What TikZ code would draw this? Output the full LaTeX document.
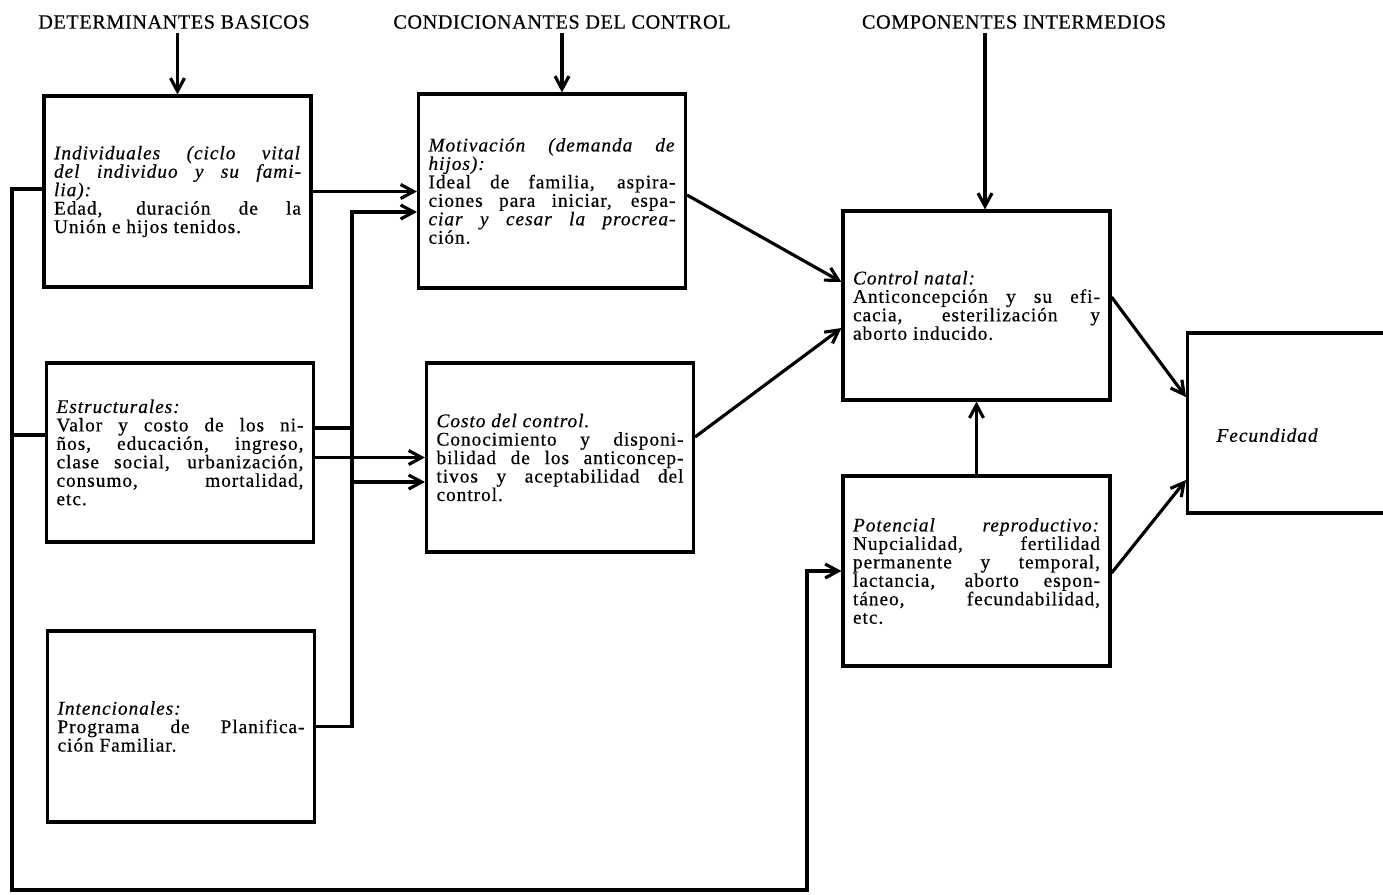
\documentclass[tikz,border=0pt]{standalone}
\usepackage{fontspec}
\setmainfont[LetterSpace=5, FakeBold=0.5]{Liberation Serif}
\usepackage{tikz}
\usetikzlibrary{arrows.meta,positioning}
\tikzstyle{caja} = [rectangle, draw, line width=1.8pt, text width=4.94cm, inner xsep=0.2cm, align=justify, font=\fontsize{11}{10.5}\selectfont]
\tikzstyle{titulo} = [inner sep=2pt, font=\fontsize{11.5}{13}\selectfont\addfontfeatures{LetterSpace=3}]
\tikzstyle{linea} = [line width=1.8pt]
\tikzstyle{flecha} = [line width=1.8pt, -{Straight Barb[length=2.6mm, width=2.8mm]}]
\tolerance=9999
\lineskiplimit=-6pt
\begin{document}
\begin{tikzpicture}[x=0.02cm, y=-0.02cm]
    \useasboundingbox (0,0) rectangle (1383,894);
    \clip (0,0) rectangle (1383,894);

    % encabezados
    \node[titulo] (hdet) at (174,22) {DETERMINANTES BASICOS};
    \node[titulo] (hcon) at (562,22) {CONDICIONANTES DEL CONTROL};
    \node[titulo] (hcom) at (1014,22) {COMPONENTES INTERMEDIOS};

    % determinantes basicos
    \node[caja, minimum height=3.82cm] (ind) at (177.5,191.5) {\textit{Individuales (ciclo vital}\linebreak \textit{del individuo y su fami-}\linebreak \textit{lia):}\\
        Edad, duración de la\linebreak Unión e hijos tenidos.};
    \node[caja, minimum height=3.58cm] (est) at (180,452.5) {\textit{Estructurales:}\\
        Valor y costo de los ni-\linebreak ños, educación, ingreso,\linebreak clase social, urbanización,\linebreak consumo, mortalidad,\linebreak etc.};
    \node[caja, minimum height=3.82cm] (inte) at (181,726.5) {\textit{Intencionales:}\\
        Programa de Planifica-\linebreak ción Familiar.};

    % condicionantes del control
    \node[caja, minimum height=3.88cm] (mot) at (552,191) {\textit{Motivación (demanda de}\linebreak \textit{hijos):}\\
        Ideal de familia, aspira-\linebreak ciones para iniciar, espa-\linebreak \textit{ciar y cesar la procrea-}\linebreak ción.};
    \node[caja, minimum height=3.78cm] (cos) at (560,457.5) {\textit{Costo del control.}\\
        Conocimiento y disponi-\linebreak bilidad de los anticoncep-\linebreak tivos y aceptabilidad del\linebreak control.};

    % componentes intermedios
    \node[caja, minimum height=3.78cm] (cna) at (976.5,305.5) {\textit{Control natal:}\\
        Anticoncepción y su efi-\linebreak cacia, esterilización y\linebreak aborto inducido.};
    \node[caja, minimum height=3.8cm] (pot) at (976.5,571) {\textit{Potencial reproductivo:}\linebreak
        Nupcialidad, fertilidad\linebreak permanente y temporal,\linebreak lactancia, aborto espon-\linebreak táneo, fecundabilidad,\linebreak etc.};
    \node[caja, anchor=west, text width=5cm, inner xsep=0.58cm, align=left, minimum height=3.6cm, text height=0.85cm, text depth=0.1cm] (fec) at (1186,423) {\textit{Fecundidad}};

    % flechas de los encabezados
    \draw[flecha] (hdet.south -| ind.north) -- (ind.north);
    \draw[flecha] (hcon.south) -- (hcon.south |- mot.north);
    \draw[flecha] ([xshift=0.17cm]cna.north |- hcom.south) -- ([xshift=0.17cm]cna.north);

    % hacia los condicionantes
    \coordinate (codo) at (352,300);
    \draw[flecha] (ind.east) -- (ind.east -| mot.west);
    \draw[flecha] ([yshift=0.49cm]est.east) -| (codo) |- ([yshift=-0.42cm]mot.west);
    \draw[flecha] (est.east |- cos.west) -- (cos.west);
    \draw[flecha] (inte.east) -| (codo) |- ([yshift=-0.49cm]cos.west);

    % retorno al potencial reproductivo
    \coordinate (retl) at (12,890);
    \coordinate (retr) at (807,890);
    \draw[flecha] ([yshift=0.05cm]ind.west) -| (retl) -- (retr) |- (pot.west);
    \draw[linea] ([yshift=0.35cm]est.west) -- ([yshift=0.35cm]est.west -| retl);

    % hacia los componentes y la fecundidad
    \draw[flecha] ([yshift=-0.08cm]mot.east) -- ([yshift=0.47cm]cna.west);
    \draw[flecha] ([yshift=0.41cm]cos.east) -- ([yshift=-0.45cm]cna.west);
    \draw[flecha] (pot.north) -- (pot.north |- cna.south);
    \draw[flecha] ([yshift=0.17cm]cna.east) -- ([yshift=0.52cm]fec.west);
    \draw[flecha] ([yshift=-0.04cm]pot.east) -- ([yshift=-1.14cm]fec.west);
\end{tikzpicture}
\end{document}
